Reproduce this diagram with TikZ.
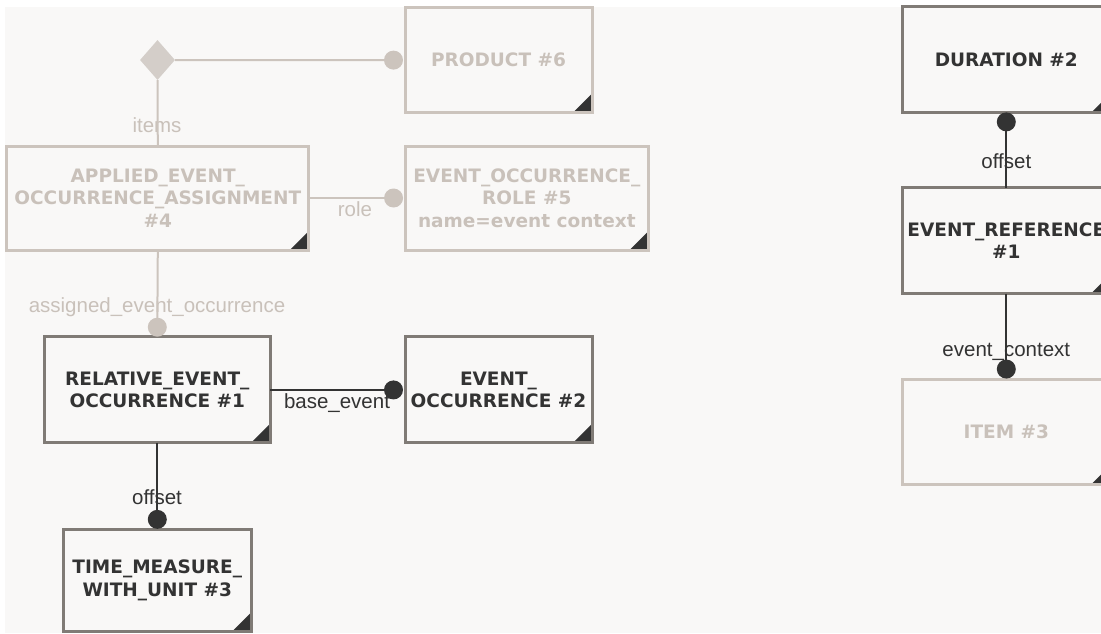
\documentclass[tikz,border=0pt]{standalone}
\usepackage{fontspec}
\setmainfont{DejaVu Sans}
\newfontfamily\lblfont{Liberation Sans}
\usetikzlibrary{shapes.geometric}
\definecolor{bg}{HTML}{F9F8F7}
\definecolor{darkbd}{HTML}{807B76}
\definecolor{darkink}{HTML}{333333}
\definecolor{lightbd}{HTML}{CCC4BD}
\definecolor{lightink}{HTML}{C9C1BA}
\definecolor{diafill}{HTML}{D4CEC9}
\tikzset{
  ent/.style={draw, line width=3pt, fill=bg, outer sep=0pt, inner sep=0pt,
    font=\bfseries\fontsize{18.5}{22.5}\selectfont, align=center,
    path picture={\fill[darkink] (path picture bounding box.south east) -- ++(-19pt,0pt) -- ++(19pt,19pt) -- cycle;}},
  dent/.style={ent, draw=darkbd, text=darkink},
  lent/.style={ent, draw=lightbd, text=lightink},
  lbl/.style={font=\lblfont\fontsize{20.5}{24}\selectfont, anchor=base, inner sep=0pt, outer sep=0pt},
  dlbl/.style={lbl, text=darkink},
  llbl/.style={lbl, text=lightink},
  lline/.style={draw=lightbd, line width=2pt},
  dline/.style={draw=darkink, line width=2pt},
  ldot/.style={fill=lightbd},
  ddot/.style={fill=darkink},
}
\begin{document}
\begin{tikzpicture}[x=1pt,y=-1pt]
\useasboundingbox (0,0) rectangle (1101,633);
\fill[white] (0,0) rectangle (1101,633);
\fill[bg] (5,7) rectangle (1101,633);

% entities
\node[lent, minimum width=187pt, minimum height=105pt] (prod) at (498.5,60.1) {PRODUCT \#6};
\node[lent, minimum width=302pt, minimum height=104pt] (aeoa) at (157.8,198) {APPLIED\_EVENT\_\\OCCURRENCE\_ASSIGNMENT\\\#4};
\node[lent, minimum width=243.5pt, minimum height=104pt] (eor) at (526.8,198) {EVENT\_OCCURRENCE\_\\ROLE \#5\\name=event context};
\node[dent, minimum width=225.5pt, minimum height=106pt] (reo) at (157.3,389.9) {RELATIVE\_EVENT\_\\OCCURRENCE \#1};
\node[dent, minimum width=187pt, minimum height=106pt] (eo) at (498.5,389.9) {EVENT\_\\OCCURRENCE \#2};
\node[dent, minimum width=187.5pt, minimum height=102.5pt] (tmwu) at (157.3,580.3) {TIME\_MEASURE\_\\WITH\_UNIT \#3};
\node[dent, minimum width=207.5pt, minimum height=106pt] (dur) at (1006.3,59.9) {DURATION \#2};
\node[dent, minimum width=207.5pt, minimum height=106pt] (eref) at (1006.3,240.5) {EVENT\_REFERENCE\\\#1};
\node[lent, minimum width=207.5pt, minimum height=105.5pt] (item) at (1006.3,431.8) {ITEM \#3};

\node[diamond, fill=diafill, inner sep=0pt, minimum width=35pt, minimum height=40pt] (dia) at (157.5,60) {};

% labels
\node[llbl] (litems) at (157,132) {items};
\node[llbl] (lrole) at (355,216) {role};
\node[llbl] (lassigned) at (157,312) {assigned\_event\_occurrence};
\node[dlbl] (lbase) at (337,408) {base\_event};
\node[dlbl] (loff1) at (157,504) {offset};
\node[dlbl] (loff2) at (1006.3,168) {offset};
\node[dlbl] (lctx) at (1006.3,356) {event\_context};

% connectors
\coordinate (cprod) at ([xshift=-11.5pt]prod.west);
\draw[lline] (dia.east) -- (cprod);
\fill[ldot] (cprod) circle (9.5pt);

\draw[lline] (dia.south) -- (aeoa.north);

\coordinate (ceor) at ([xshift=-11.5pt]eor.west);
\draw[lline] (aeoa.east) -- (ceor);
\fill[ldot] (ceor) circle (9.5pt);

\coordinate (creo) at ([yshift=9.7pt]reo.north);
\draw[lline] (aeoa.south) -- (creo);
\fill[ldot] (creo) circle (9.5pt);

\coordinate (ceo) at ([xshift=-11.5pt]eo.west);
\draw[dline] (reo.east) -- (ceo);
\fill[ddot] (ceo) circle (9.5pt);

\coordinate (ctm) at ([yshift=9.7pt]tmwu.north);
\draw[dline] (reo.south) -- (ctm);
\fill[ddot] (ctm) circle (9.5pt);

\coordinate (cdur) at ([yshift=-9pt]dur.south);
\draw[dline] (eref.north) -- (cdur);
\fill[ddot] (cdur) circle (9.5pt);

\coordinate (citem) at ([yshift=10pt]item.north);
\draw[dline] (eref.south) -- (citem);
\fill[ddot] (citem) circle (9.5pt);
\end{tikzpicture}
\end{document}
